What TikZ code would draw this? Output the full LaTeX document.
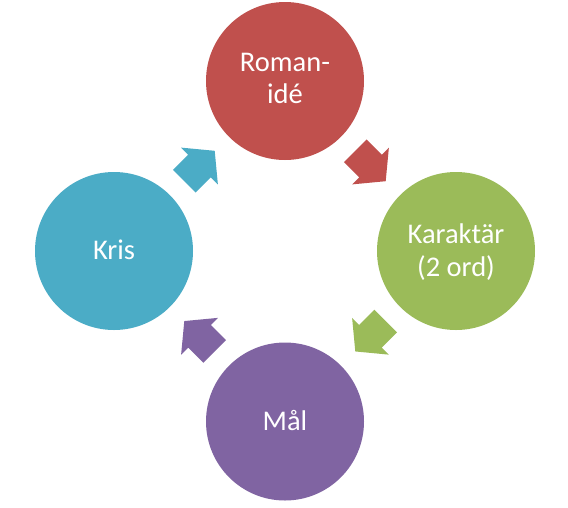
\documentclass[tikz,border=0pt]{standalone}
\usepackage{fontspec}
\setmainfont{Carlito}
\usetikzlibrary{calc}
\definecolor{cred}{HTML}{C0504D}
\definecolor{cgreen}{HTML}{9BBB59}
\definecolor{cpurple}{HTML}{8064A2}
\definecolor{cblue}{HTML}{4BACC6}
\begin{document}
\begin{tikzpicture}[x=1pt,y=-1pt,
  disc/.style={circle, minimum size=158pt, inner sep=0pt, draw=none},
  lbl/.style={text=white, font=\fontsize{28.5}{32}\selectfont, anchor=base, inner sep=0pt},
  blockarrow/.style={fill=#1, draw=none}]
\useasboundingbox[fill=white] (0,0) rectangle (568,507);
% circles
\node[disc, fill=cred] (idea) at (285,81) {};
\node[disc, fill=cgreen] (char) at (456,251) {};
\node[disc, fill=cpurple] (goal) at (285,421.5) {};
\node[disc, fill=cblue] (crisis) at (114,251) {};
% labels
\node[lbl] (t1a) at (285,71.7) {Roman-};
\node[lbl] (t1b) at (285,103.3) {idé};
\node[lbl] (t2a) at (456,243.5) {Karaktär};
\node[lbl] (t2b) at (456,276) {(2 ord)};
\node[lbl] (t3) at (285,430.7) {Mål};
\node[lbl] (t4) at (114,259.3) {Kris};
% arrow positions
\coordinate (m1) at ($(idea)!0.5!(char)$);
\coordinate (m2) at ($(char)!0.5!(goal)$);
\coordinate (m3) at ($(goal)!0.5!(crisis)$);
\coordinate (m4) at ($(crisis)!0.5!(idea)$);
\def\arrowshape{(-21.5,16) -- (0,16) -- (0,26) -- (21.5,0) -- (0,-26) -- (0,-16) -- (-21.5,-16) -- cycle}
\fill[blockarrow=cred, shift={(m1)}, rotate=-45] \arrowshape;
\fill[blockarrow=cgreen, shift={(m2)}, rotate=-135] \arrowshape;
\fill[blockarrow=cpurple, shift={(m3)}, rotate=135] \arrowshape;
\fill[blockarrow=cblue, shift={(m4)}, rotate=45] \arrowshape;
\end{tikzpicture}
\end{document}
